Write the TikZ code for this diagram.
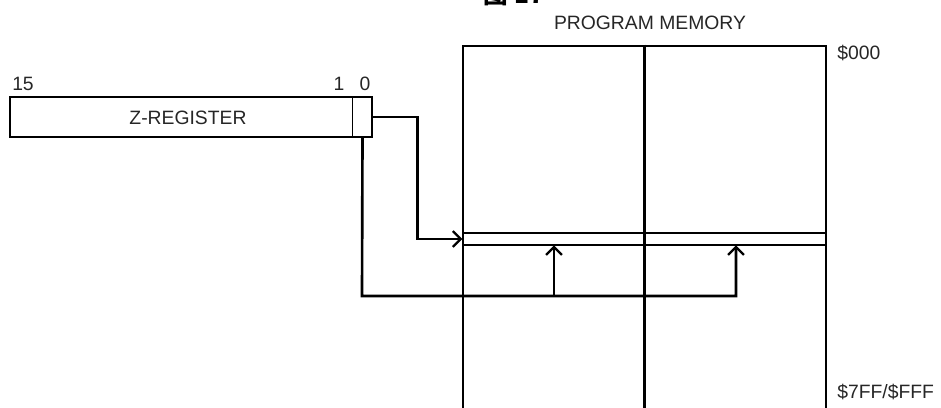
\documentclass[tikz,border=0pt]{standalone}
\usepackage{fontspec}
\setmainfont{Liberation Sans}
\newfontfamily\cjk{Noto Sans CJK SC}
\usetikzlibrary{arrows.meta}
\tikzset{
  lbl/.style={font=\fontsize{11}{13}\selectfont, text=black!85, inner sep=0pt},
  thickline/.style={line width=1.5pt},
  thinline/.style={line width=0.8pt},
  conn/.style={line width=1.5pt, -{Straight Barb[length=4.5pt,width=9pt,line width=1.3pt]}},
}
\begin{document}
\begin{tikzpicture}[x=0.02cm,y=-0.02cm]
\useasboundingbox (0,0) rectangle (941,407);
% title (cut off by the top edge, as in the reference)
\node[anchor=base, inner sep=0pt, font=\cjk\bfseries\fontsize{14}{15}\selectfont] (title) at (514,3.5) {图 17};
% register
\node[draw, thickline, minimum width=7.24cm, minimum height=0.8cm, inner sep=0pt] (reg) at (191,117) {};
\node[minimum width=0.38cm, minimum height=0.8cm, inner sep=0pt] (bit0) at (362.5,117) {};
\draw[thinline] (bit0.north west) -- (bit0.south west);
\node[lbl] (zlabel) at (188,118) {Z-REGISTER};
\node[lbl] (b15) at (23,84) {15};
\node[lbl] (b1) at (339,84) {1};
\node[lbl] (b0) at (365,84) {0};
% memory
\node[draw, thickline, minimum width=7.26cm, minimum height=7.68cm, inner sep=0pt] (mem) at (644.5,238) {};
\draw[thickline] (mem.north) -- (mem.south);
\node[draw, thinline, minimum width=7.26cm, minimum height=0.24cm, inner sep=0pt] (row) at (644.5,239) {};
\node[minimum width=3.63cm, minimum height=0.24cm, inner sep=0pt] (rowL) at (554,239) {};
\node[minimum width=3.63cm, minimum height=0.24cm, inner sep=0pt] (rowR) at (736,239) {};
\node[lbl] (pm) at (650,23) {PROGRAM MEMORY};
\node[lbl, anchor=west] (a0) at (837,53) {\$000};
\node[lbl, anchor=west] (a1) at (837,392) {\$7FF/\$FFF};
% connectors
\coordinate (bus) at (362,296);
\draw[conn] (bit0.east) -- ++(45,0) |- (row.west);
\draw[conn] (bit0.south) -- (bus) -| (rowR.south);
\draw[conn] (rowL.south |- bus) -- (rowL.south);
\end{tikzpicture}
\end{document}
